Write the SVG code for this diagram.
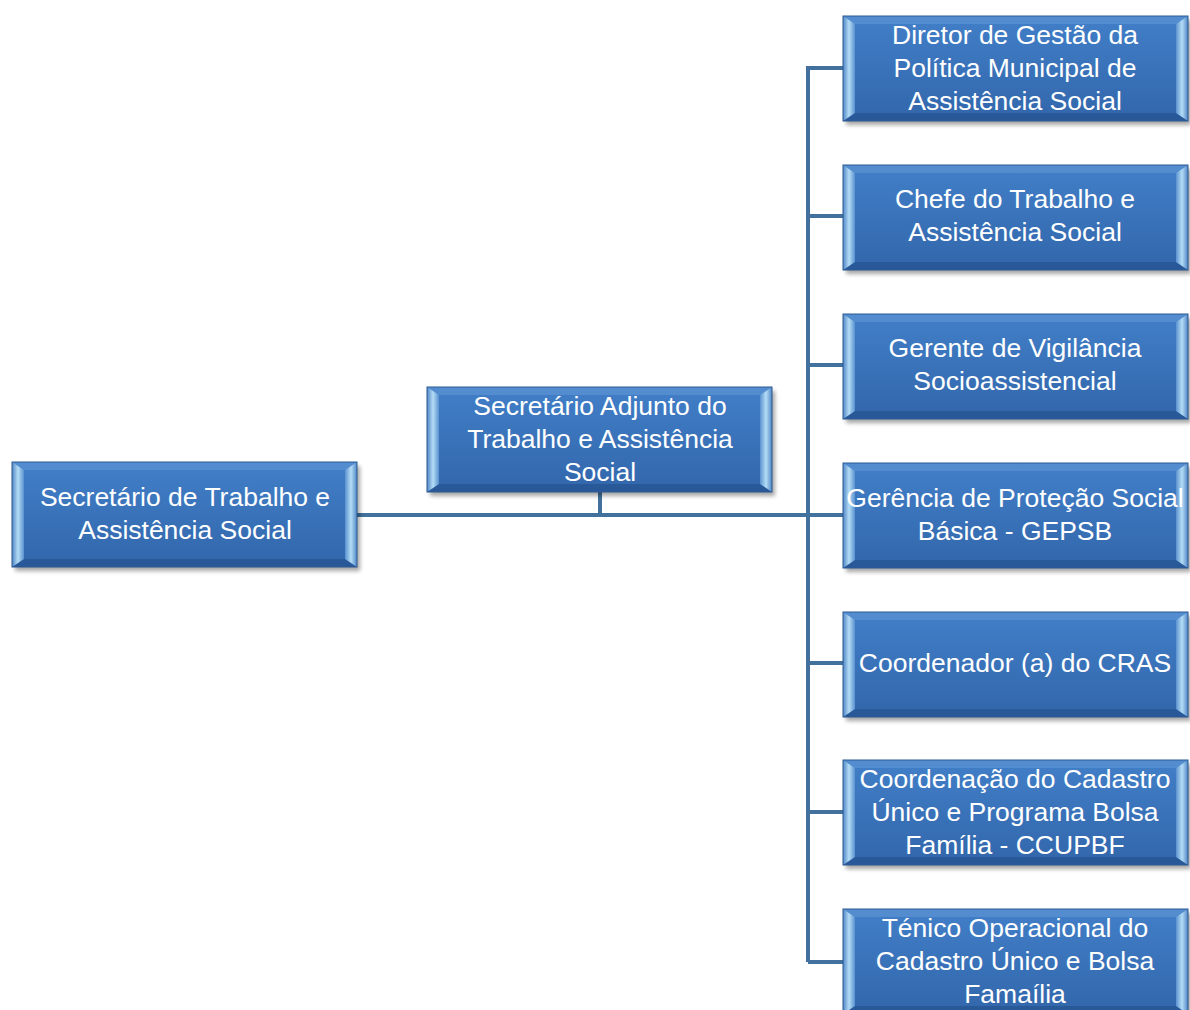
<svg xmlns="http://www.w3.org/2000/svg" xmlns:xlink="http://www.w3.org/1999/xlink" width="1190" height="1010" viewBox="0 0 1190 1010">
<style>
.t{font-family:"Liberation Sans",Arial,sans-serif;font-size:26.5px;fill:#ffffff;text-anchor:middle}
.c{stroke:#41719c;stroke-width:4;fill:none}
</style>
<defs>
<linearGradient id="gf" x1="0" y1="0" x2="0" y2="1">
<stop offset="0" stop-color="#417fc8"/>
<stop offset="1" stop-color="#3266ab"/>
</linearGradient>
<linearGradient id="gl" x1="0" y1="0" x2="1" y2="0">
<stop offset="0" stop-color="#4f86c6"/>
<stop offset="0.5" stop-color="#b4dcf5"/>
<stop offset="1" stop-color="#5a92d0"/>
</linearGradient>
<linearGradient id="gr" x1="0" y1="0" x2="1" y2="0">
<stop offset="0" stop-color="#5a92d0"/>
<stop offset="0.5" stop-color="#b4dcf5"/>
<stop offset="1" stop-color="#4f86c6"/>
</linearGradient>
<filter id="sh" x="-5%" y="-10%" width="115%" height="130%">
<feGaussianBlur stdDeviation="2"/>
</filter>
<g id="box">
<rect x="3" y="4" width="345" height="105" fill="#000" opacity="0.35" filter="url(#sh)"/>
<rect x="0" y="0" width="345" height="105" fill="url(#gf)"/>
<polygon points="0,0 345,0 333,8 12,8" fill="#5b93d3" opacity="0.7"/>
<polygon points="0,105 345,105 333,97 12,97" fill="#24528e" opacity="0.7"/>
<polygon points="0,0 12,8 12,97 0,105" fill="url(#gl)"/>
<polygon points="345,0 333,8 333,97 345,105" fill="url(#gr)"/>
<rect x="0" y="0" width="345" height="105" fill="none" stroke="#2d5a94" stroke-width="1"/>
</g>
</defs>
<rect width="1190" height="1010" fill="#ffffff"/>
<g id="connectors">
<path class="c" d="M357,515 H808"/>
<path class="c" d="M600,492 V515"/>
<path class="c" d="M808,66 V962"/>
<path class="c" d="M808,68 H843"/>
<path class="c" d="M808,216 H843"/>
<path class="c" d="M808,365 H843"/>
<path class="c" d="M808,515 H843"/>
<path class="c" d="M808,663 H843"/>
<path class="c" d="M808,812 H843"/>
<path class="c" d="M808,962 H843"/>
</g>
<g id="n-secretario">
<use xlink:href="#box" x="12" y="462"/>
<text class="t" x="185" y="506">Secretário de Trabalho e</text>
<text class="t" x="185" y="539">Assistência Social</text>
</g>
<g id="n-adjunto">
<use xlink:href="#box" x="427" y="387"/>
<text class="t" x="600" y="415">Secretário Adjunto do</text>
<text class="t" x="600" y="448">Trabalho e Assistência</text>
<text class="t" x="600" y="481">Social</text>
</g>
<g id="n-diretor">
<use xlink:href="#box" x="843" y="16"/>
<text class="t" x="1015" y="44">Diretor de Gestão da</text>
<text class="t" x="1015" y="77">Política Municipal de</text>
<text class="t" x="1015" y="110">Assistência Social</text>
</g>
<g id="n-chefe">
<use xlink:href="#box" x="843" y="165"/>
<text class="t" x="1015" y="208">Chefe do Trabalho e</text>
<text class="t" x="1015" y="241">Assistência Social</text>
</g>
<g id="n-gerente">
<use xlink:href="#box" x="843" y="314"/>
<text class="t" x="1015" y="357">Gerente de Vigilância</text>
<text class="t" x="1015" y="390">Socioassistencial</text>
</g>
<g id="n-gepsb">
<use xlink:href="#box" x="843" y="463"/>
<text class="t" x="1015" y="507">Gerência de Proteção Social</text>
<text class="t" x="1015" y="540">Básica - GEPSB</text>
</g>
<g id="n-cras">
<use xlink:href="#box" x="843" y="612"/>
<text class="t" x="1015" y="672">Coordenador (a) do CRAS</text>
</g>
<g id="n-ccupbf">
<use xlink:href="#box" x="843" y="760"/>
<text class="t" x="1015" y="788">Coordenação do Cadastro</text>
<text class="t" x="1015" y="821">Único e Programa Bolsa</text>
<text class="t" x="1015" y="854">Família - CCUPBF</text>
</g>
<g id="n-tecnico">
<use xlink:href="#box" x="843" y="909"/>
<text class="t" x="1015" y="937">Ténico Operacional do</text>
<text class="t" x="1015" y="970">Cadastro Único e Bolsa</text>
<text class="t" x="1015" y="1003">Famaília</text>
</g>
</svg>
